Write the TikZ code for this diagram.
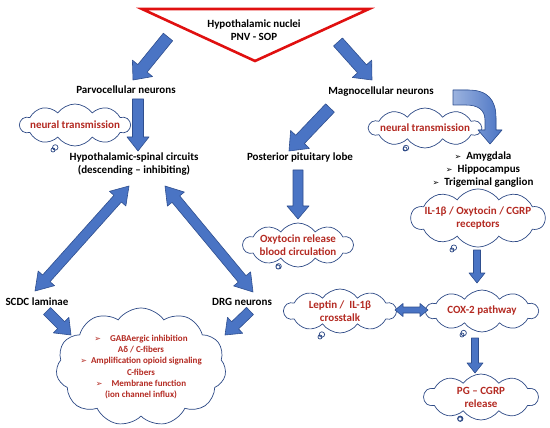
\documentclass[tikz,border=0pt]{standalone}
\usepackage{fontspec}
\setmainfont{Carlito}
\newfontfamily\dingfont{DejaVu Sans}
\usetikzlibrary{shapes.symbols, shapes.callouts, calc}
\definecolor{arrblue}{HTML}{4A74C4}
\definecolor{arrdark}{HTML}{2F4F8F}
\definecolor{cloudc}{HTML}{2E4A86}
\definecolor{redtxt}{HTML}{B42A22}
\definecolor{trired}{HTML}{E01010}

\newcommand{\bul}{{\dingfont\fontsize{8}{9}\selectfont ➢}}
% block arrow: tail, tip, half shaft, half head, head length
\newcommand{\blkarrow}[5]{%
  \coordinate (bh) at ($(#2)!#5!(#1)$);
  \draw[blk] ($(#1)!#3!90:(#2)$) -- ($(bh)!#3!90:(#2)$) -- ($(bh)!#4!90:(#2)$) -- (#2)
    -- ($(bh)!#4!-90:(#2)$) -- ($(bh)!#3!-90:(#2)$) -- ($(#1)!#3!-90:(#2)$) -- cycle;}
% double headed block arrow
\newcommand{\blkdarrow}[5]{%
  \coordinate (ah) at ($(#1)!#5!(#2)$);
  \coordinate (bh) at ($(#2)!#5!(#1)$);
  \draw[blk] (#1) -- ($(ah)!#4!90:(#2)$) -- ($(ah)!#3!90:(#2)$) -- ($(bh)!#3!90:(#2)$)
    -- ($(bh)!#4!90:(#2)$) -- (#2) -- ($(bh)!#4!-90:(#2)$) -- ($(bh)!#3!-90:(#2)$)
    -- ($(ah)!#3!-90:(#2)$) -- ($(ah)!#4!-90:(#2)$) -- cycle;}

\begin{document}
\begin{tikzpicture}[
    x=1pt, y=-1pt,
    lbl/.style={font=\fontsize{11}{13}\selectfont\bfseries, align=center, inner sep=1pt},
    blk/.style={fill=arrblue, draw=arrdark, line width=0.6pt, line join=round},
    cl/.style={shape=cloud, cloud puffs=10, cloud puff arc=110, cloud ignores aspect, draw=cloudc, fill=white,
        line width=0.7pt, text=redtxt, font=\fontsize{11}{13}\selectfont\bfseries, align=center,
        inner xsep=-16pt, inner ysep=-7pt},
    thought/.style={cl, shape=cloud callout, callout absolute pointer={#1},
        callout pointer start size=7pt, callout pointer end size=4pt, callout pointer segments=2},
]
\useasboundingbox (0,0) rectangle (550,428);

% hypothalamus
\draw[trired, line width=2.6pt, line join=miter] (142,9) -- (369,9) -- (255,61) -- cycle;
\node[lbl] (nuclei) at (254,30) {Hypothalamic nuclei\\PNV - SOP};

\node[lbl] (parvo) at (126,90) {Parvocellular neurons};
\node[lbl] (magno) at (381,92) {Magnocellular neurons};
\node[lbl] (hsc) at (134,164) {Hypothalamic-spinal circuits\\(descending -- inhibiting)};
\node[lbl] (post) at (300,158) {Posterior pituitary lobe};
\node[lbl, align=center] (brain) at (483,170) {\bul\ \ Amygdala\\\bul\ \ Hippocampus\\\bul\ \ Trigeminal ganglion};
\node[lbl] (scdc) at (37,302) {SCDC laminae};
\node[lbl] (drg) at (242,302) {DRG neurons};

% clouds
\node[thought={(53,150)}, minimum width=110pt, minimum height=42pt] (nt1) at (75,125) {neural transmission};
\node[thought={(405,149)}, minimum width=112pt, minimum height=40pt] (nt2) at (425,128) {neural transmission};
\node[thought={(452,250)}, minimum width=134pt, minimum height=58pt] (rec) at (478,218) {IL-1β / Oxytocin / CGRP\\receptors};
\node[thought={(278,267)}, minimum width=110pt, minimum height=44pt] (oxy) at (298,245) {Oxytocin release\\blood circulation};
\node[thought={(320,337)}, minimum width=112pt, minimum height=44pt] (lep) at (340,311) {Leptin /\ \ IL-1β\\crosstalk};
\node[thought={(462,335)}, minimum width=112pt, minimum height=42pt] (cox) at (482,311) {COX-2 pathway};
\node[thought={(460,419)}, minimum width=114pt, minimum height=46pt] (pg) at (481,397) {PG -- CGRP\\release};
\node[cl, cloud puffs=11, minimum width=170pt, minimum height=118pt, inner xsep=-12pt, inner ysep=-8pt,
    font=\fontsize{9}{11.3}\selectfont\bfseries] (mech) at (141,367)
    {\bul\quad GABAergic inhibition\\Aδ / C-fibers\\\bul\ \ Amplification opioid signaling\\C-fibers\\\bul\quad Membrane function\\(ion channel influx)};

% arrow ends
\coordinate (nuc-l) at (168,37);
\coordinate (parvo-in) at (133,80);
\coordinate (nuc-r) at (338,42);
\coordinate (magno-in) at (372,80);
\coordinate (parvo-out) at (138,99);
\coordinate (hsc-in) at (138,151);
\coordinate (magno-out) at (330,108);
\coordinate (post-in) at (289,151);
\coordinate (post-out) at (298,170);
\coordinate (oxy-in) at (298,219);
\coordinate (rec-out) at (477,250);
\coordinate (cox-in) at (477,283);
\coordinate (lep-r) at (395,310);
\coordinate (cox-l) at (428,310);
\coordinate (cox-out) at (475,338);
\coordinate (pg-in) at (475,373);
\coordinate (scdc-up) at (35,291);
\coordinate (hsc-l) at (129,186);
\coordinate (hsc-r) at (165,186);
\coordinate (drg-up) at (253,292);
\coordinate (scdc-out) at (47,311);
\coordinate (mech-l) at (71,335);
\coordinate (drg-out) at (250,311);
\coordinate (mech-r) at (225,335);

\blkarrow{nuc-l}{parvo-in}{6pt}{13pt}{15pt}
\blkarrow{nuc-r}{magno-in}{6pt}{13pt}{15pt}
\blkarrow{parvo-out}{hsc-in}{5.5pt}{11pt}{14pt}
\blkarrow{magno-out}{post-in}{6pt}{13pt}{16pt}
\blkarrow{post-out}{oxy-in}{5pt}{11pt}{13pt}
\blkarrow{rec-out}{cox-in}{3.5pt}{8pt}{10pt}
\blkdarrow{lep-r}{cox-l}{3pt}{6.5pt}{8pt}
\blkarrow{cox-out}{pg-in}{3.5pt}{8pt}{10pt}
\blkdarrow{scdc-up}{hsc-l}{5pt}{11pt}{17pt}
\blkdarrow{hsc-r}{drg-up}{5pt}{11pt}{17pt}
\blkarrow{scdc-out}{mech-l}{5pt}{11pt}{14pt}
\blkarrow{drg-out}{mech-r}{5pt}{11pt}{14pt}

% curved arrow magnocellular -> brain areas
\draw[blk, left color=arrblue!55, right color=arrblue] (453,90) -- (468,90) .. controls (488,90) and (496,100) .. (496,118)
    -- (496,130) -- (502,130) -- (490,144) -- (478,130) -- (485,130) -- (485,120)
    .. controls (485,110) and (478,105) .. (466,105) -- (453,105) -- cycle;
\end{tikzpicture}
\end{document}
